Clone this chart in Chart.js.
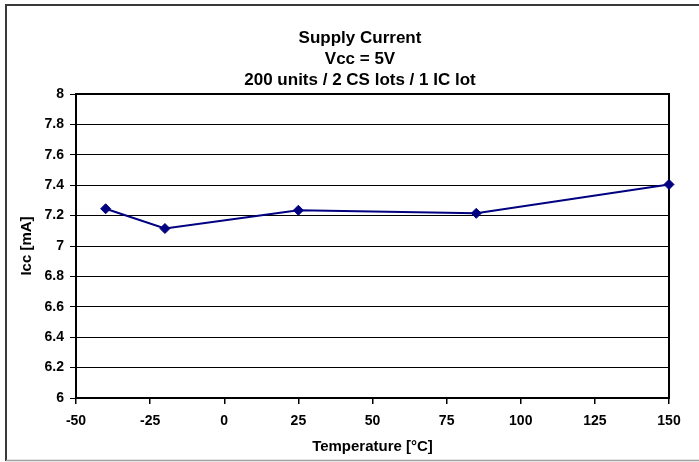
<!DOCTYPE html>
<html>
<head>
<meta charset="utf-8">
<script src="https://cdn.jsdelivr.net/npm/chart.js@4.4.1/dist/chart.umd.min.js"></script>
<style>
  html, body { margin: 0; padding: 0; background: #fff; }
  #wrap { width: 699px; height: 462px; }
</style>
</head>
<body>
<div id="wrap"><canvas id="iccChart" width="699" height="462"></canvas></div>
<script>
// Supply current vs temperature
const titleLines = ["Supply Current", "Vcc = 5V", "200 units / 2 CS lots / 1 IC lot"];
const temps = [-40, -20, 25, 85, 150];
const iccValues = [7.245, 7.115, 7.235, 7.215, 7.405];
const xRange = [-50, 150];
const yRange = [6, 8];

const FONT = "'Liberation Sans', Arial, sans-serif";

// outer frame, plot frame and title lines
const excelLook = {
  id: "excelLook",
  beforeDraw(chart) {
    const ctx = chart.ctx;
    ctx.save();
    ctx.strokeStyle = "#3a3a3a";
    ctx.lineWidth = 2;
    ctx.beginPath();
    ctx.moveTo(6, 461);
    ctx.lineTo(6, 5);
    ctx.lineTo(699, 5);
    ctx.stroke();
    ctx.strokeStyle = "#a0a0a0";
    ctx.lineWidth = 1.5;
    ctx.beginPath();
    ctx.moveTo(6, 460.5);
    ctx.lineTo(699, 460.5);
    ctx.stroke();
    ctx.restore();
  },
  afterDatasetsDraw(chart) {
    const ctx = chart.ctx;
    ctx.save();
    ctx.fillStyle = "#000";
    ctx.font = "bold 17px " + FONT;
    ctx.textAlign = "center";
    ctx.textBaseline = "middle";
    titleLines.forEach((t, i) => ctx.fillText(t, 360, 38 + i * 21));
    ctx.restore();
  },
  beforeDatasetsDraw(chart) {
    const a = chart.chartArea, ctx = chart.ctx;
    ctx.save();
    ctx.strokeStyle = "#000";
    ctx.lineWidth = 2;
    ctx.strokeRect(a.left, a.top, a.right - a.left, a.bottom - a.top);
    ctx.restore();
  }
};

new Chart(document.getElementById("iccChart"), {
  type: "scatter",
  data: {
    datasets: [{
      data: temps.map((t, i) => ({ x: t, y: iccValues[i] })),
      showLine: true,
      borderColor: "#000080",
      backgroundColor: "#000080",
      borderWidth: 2,
      pointStyle: "rectRot",
      pointRadius: 5,
      pointBorderWidth: 1,
      pointHoverRadius: 5,
      clip: false
    }]
  },
  options: {
    responsive: false,
    animation: false,
    layout: { padding: { top: 94, right: 30, bottom: 0, left: 0 } },
    plugins: { legend: { display: false }, tooltip: { enabled: false } },
    scales: {
      x: {
        type: "linear",
        min: xRange[0], max: xRange[1],
        afterFit: s => { s.height = 64; },
        border: { color: "#000", width: 2 },
        grid: { drawOnChartArea: false, drawTicks: true, tickLength: 6, color: "#000", lineWidth: 1.5 },
        ticks: { stepSize: 25, padding: 9, color: "#000", font: { family: FONT, size: 14, weight: "bold" } },
        title: { display: true, text: "Temperature [°C]", color: "#000", padding: { top: 0, bottom: 6 },
                 font: { family: FONT, size: 15, weight: "bold" } }
      },
      y: {
        min: yRange[0], max: yRange[1],
        afterFit: s => { s.width = 76; },
        border: { color: "#000", width: 2 },
        grid: { color: "#000", lineWidth: 1, tickLength: 6 },
        ticks: { stepSize: 0.2, padding: 6, color: "#000", font: { family: FONT, size: 14, weight: "bold" },
                 callback: v => String(+v.toFixed(1)) },
        title: { display: true, text: "Icc [mA]", color: "#000", padding: { top: 18, bottom: 0 },
                 font: { family: FONT, size: 15, weight: "bold" } }
      }
    }
  },
  plugins: [excelLook]
});
</script>
</body>
</html>
